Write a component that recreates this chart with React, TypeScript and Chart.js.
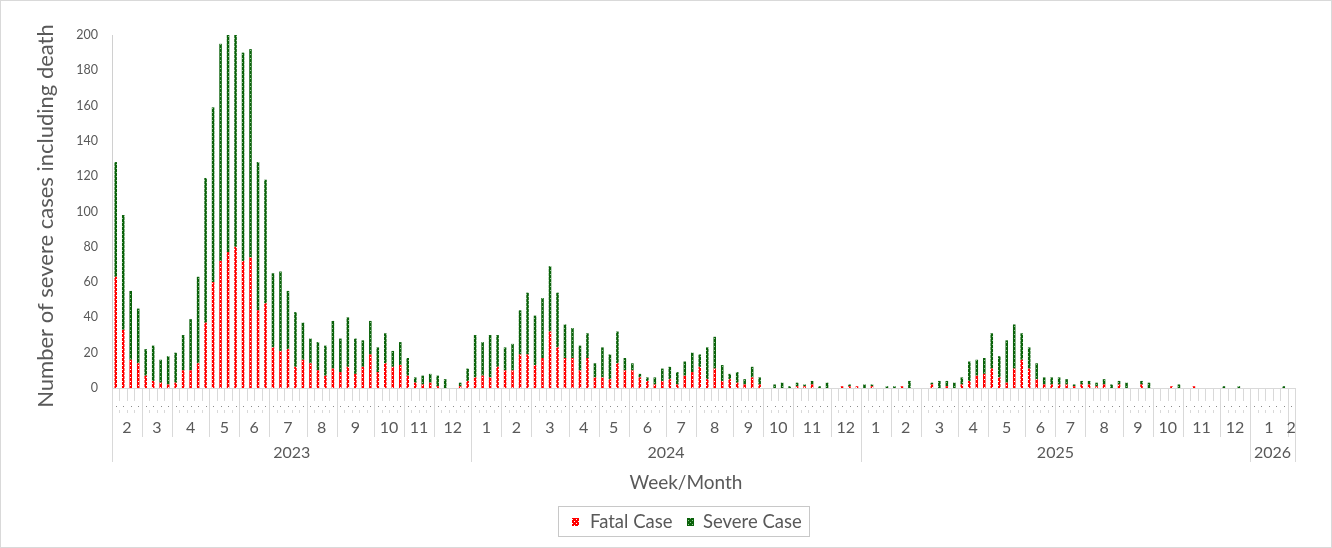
import React, { useEffect, useRef } from "react";
import { Chart, registerables } from "chart.js";

Chart.register(...registerables);

// [year, month, number of weeks]
const monthGroups: [number, number, number][] = [
  [2023, 2, 4], [2023, 3, 4], [2023, 4, 5], [2023, 5, 4], [2023, 6, 4], [2023, 7, 5],
  [2023, 8, 4], [2023, 9, 5], [2023, 10, 4], [2023, 11, 4], [2023, 12, 5],
  [2024, 1, 4], [2024, 2, 4], [2024, 3, 5], [2024, 4, 4], [2024, 5, 4], [2024, 6, 5],
  [2024, 7, 4], [2024, 8, 5], [2024, 9, 4], [2024, 10, 4], [2024, 11, 5], [2024, 12, 4],
  [2025, 1, 4], [2025, 2, 4], [2025, 3, 5], [2025, 4, 4], [2025, 5, 5], [2025, 6, 4],
  [2025, 7, 4], [2025, 8, 5], [2025, 9, 4], [2025, 10, 4], [2025, 11, 5], [2025, 12, 4],
  [2026, 1, 5], [2026, 2, 1],
];

const fatalCases = [
  63, 33, 16, 14, 7, 4, 3, 2, 3, 10,
  10, 14, 37, 60, 72, 77, 80, 72, 74, 44,
  48, 23, 21, 22, 12, 16, 14, 10, 7, 11,
  9, 12, 8, 12, 19, 9, 14, 12, 13, 7,
  3, 2, 3, 1, 0, 0, 1, 4, 6, 7,
  6, 12, 10, 10, 19, 19, 13, 17, 32, 23,
  17, 17, 10, 17, 6, 6, 5, 14, 10, 10,
  6, 4, 2, 4, 5, 2, 7, 9, 12, 5,
  11, 4, 5, 3, 2, 6, 2, 0, 0, 0,
  0, 1, 1, 2, 0, 0, 0, 1, 1, 1,
  0, 1, 0, 0, 0, 1, 0, 0, 0, 2,
  0, 1, 0, 2, 4, 7, 8, 11, 6, 3,
  11, 16, 11, 5, 2, 2, 2, 2, 1, 2,
  2, 1, 2, 0, 2, 0, 0, 2, 0, 0,
  0, 1, 0, 0, 1, 0, 0, 0, 0, 0,
  0, 0, 0, 0, 0, 0, 0, 0,
];

const severeCases = [
  65, 65, 39, 31, 15, 20, 13, 16, 17, 20,
  29, 49, 82, 99, 123, 123, 120, 118, 118, 84,
  70, 42, 45, 33, 31, 21, 14, 16, 17, 27,
  19, 28, 20, 15, 19, 14, 17, 9, 13, 10,
  3, 5, 5, 6, 5, 0, 2, 7, 24, 19,
  24, 18, 13, 15, 25, 35, 28, 34, 37, 31,
  19, 17, 14, 14, 8, 17, 14, 18, 7, 4,
  2, 2, 4, 7, 7, 7, 8, 11, 7, 18,
  18, 9, 3, 6, 3, 6, 4, 0, 2, 3,
  1, 2, 1, 2, 1, 3, 0, 0, 1, 0,
  2, 1, 0, 1, 1, 0, 4, 0, 0, 1,
  4, 3, 3, 4, 11, 9, 9, 20, 12, 24,
  25, 15, 12, 9, 4, 4, 4, 3, 1, 2,
  2, 2, 3, 2, 2, 3, 0, 2, 3, 0,
  0, 0, 2, 0, 0, 0, 0, 0, 1, 0,
  1, 0, 0, 0, 0, 0, 1, 0,
];

const seriesLabels = ["Fatal Case", "Severe Case"];
const yAxisTitle = "Number of severe cases including death";
const xAxisTitle = "Week/Month";

// derived category labels (one per week)
const categories: string[] = [];
const weekYear: number[] = [];
monthGroups.forEach(([y, m, n]) => {
  for (let k = 1; k <= n; k++) {
    categories.push(`${y}-${m}-W${k}`);
    weekYear.push(y);
  }
});

const FONT = "Lato, 'Noto Sans', sans-serif";
const TEXT = "#595959";
const LINE = "#d9d9d9";

function makePattern(bg: string, fg: string, cells: [number, number][]) {
  const c = document.createElement("canvas");
  c.width = 4;
  c.height = 4;
  const g = c.getContext("2d")!;
  g.fillStyle = bg;
  g.fillRect(0, 0, 4, 4);
  g.fillStyle = fg;
  cells.forEach(([a, b]) => g.fillRect(a, b, 1, 1));
  return g.createPattern(c, "repeat")!;
}

export default function App() {
  const ref = useRef<HTMLCanvasElement | null>(null);

  useEffect(() => {
    const canvas = ref.current;
    if (!canvas) return;
    const redPat = makePattern("#ff0000", "#ffffff", [[0, 3], [2, 1]]);
    const greenPat = makePattern("#0a620a", "#8fc48f", [[0, 0], [2, 2]]);

    const axisPlugin = {
      id: "multiLevelAxis",
      afterDraw(chart: any) {
        const ctx = chart.ctx as CanvasRenderingContext2D;
        const xs = chart.scales.x;
        const area = chart.chartArea;
        const n = categories.length;
        const bnd = (k: number) =>
          k <= 0 ? area.left : k >= n ? area.right : (xs.getPixelForValue(k - 1) + xs.getPixelForValue(k)) / 2;
        const y0 = area.bottom;
        ctx.save();
        ctx.strokeStyle = LINE;
        ctx.lineWidth = 1;
        ctx.beginPath();
        ctx.moveTo(area.left, y0 + 0.5);
        ctx.lineTo(area.right, y0 + 0.5);
        ctx.stroke();
        for (let k = 0; k <= n; k++) {
          const px = Math.round(bnd(k)) + 0.5;
          ctx.beginPath();
          ctx.moveTo(px, y0);
          ctx.lineTo(px, y0 + 13);
          ctx.moveTo(px, y0 + 22);
          ctx.lineTo(px, y0 + 25);
          ctx.stroke();
        }
        ctx.fillStyle = "#8c8c8c";
        for (let i = 0; i < n; i++) {
          const cx = Math.round(xs.getPixelForValue(i));
          ctx.fillRect(cx, y0 + 18, 1, 1);
        }
        ctx.fillStyle = TEXT;
        ctx.textAlign = "center";
        ctx.textBaseline = "middle";
        ctx.font = `16px ${FONT}`;
        let start = 0;
        monthGroups.forEach(([, m, cnt]) => {
          const a = bnd(start), b = bnd(start + cnt);
          ctx.beginPath();
          ctx.moveTo(Math.round(a) + 0.5, y0);
          ctx.lineTo(Math.round(a) + 0.5, y0 + 49);
          ctx.moveTo(Math.round(b) + 0.5, y0);
          ctx.lineTo(Math.round(b) + 0.5, y0 + 49);
          ctx.stroke();
          ctx.fillText(String(m), (a + b) / 2, y0 + 40);
          start += cnt;
        });
        const years: { y: number; s: number; e: number }[] = [];
        weekYear.forEach((y, i) => {
          const last = years[years.length - 1];
          if (!last || last.y !== y) years.push({ y, s: i, e: i + 1 });
          else last.e = i + 1;
        });
        years.forEach(({ y, s, e }) => {
          const a = bnd(s), b = bnd(e);
          ctx.beginPath();
          ctx.moveTo(Math.round(a) + 0.5, y0);
          ctx.lineTo(Math.round(a) + 0.5, y0 + 74);
          ctx.moveTo(Math.round(b) + 0.5, y0);
          ctx.lineTo(Math.round(b) + 0.5, y0 + 74);
          ctx.stroke();
          ctx.fillText(String(y), (a + b) / 2, y0 + 65);
        });
        ctx.font = `19px ${FONT}`;
        ctx.fillText(xAxisTitle, 686, 483);
        ctx.save();
        ctx.translate(46, 216);
        ctx.rotate(-Math.PI / 2);
        ctx.font = `22px ${FONT}`;
        ctx.fillText(yAxisTitle, 0, 0);
        ctx.restore();
        // legend
        ctx.strokeStyle = "#c8c8c8";
        ctx.strokeRect(558.5, 506.5, 251, 30);
        ctx.textAlign = "left";
        ctx.font = `18.5px ${FONT}`;
        ctx.fillStyle = redPat;
        ctx.fillRect(572, 518, 7, 8);
        ctx.fillStyle = TEXT;
        ctx.fillText(seriesLabels[0], 590, 522);
        ctx.fillStyle = greenPat;
        ctx.fillRect(687, 518, 7, 8);
        ctx.fillStyle = TEXT;
        ctx.fillText(seriesLabels[1], 703, 522);
        ctx.strokeStyle = LINE;
        ctx.strokeRect(0.5, 0.5, chart.width - 1, chart.height - 1);
        ctx.restore();
      },
    };

    const chart = new Chart(canvas, {
      type: "bar",
      data: {
        labels: categories,
        datasets: [
          {
            label: seriesLabels[0],
            data: fatalCases,
            backgroundColor: redPat as any,
            barPercentage: 0.34,
            categoryPercentage: 1,
          },
          {
            label: seriesLabels[1],
            data: severeCases,
            backgroundColor: greenPat as any,
            barPercentage: 0.34,
            categoryPercentage: 1,
          },
        ],
      },
      options: {
        responsive: false,
        animation: false,
        layout: { padding: { left: 0, right: 37, top: 35, bottom: 0 } },
        plugins: { legend: { display: false }, tooltip: { enabled: false } },
        scales: {
          x: {
            stacked: true,
            offset: true,
            grid: { display: false, drawTicks: false },
            border: { display: false },
            ticks: { display: false },
            afterFit: (s: any) => {
              s.height = 160;
            },
          },
          y: {
            stacked: true,
            min: 0,
            max: 200,
            ticks: { stepSize: 20, color: TEXT, font: { family: FONT, size: 12.5 }, padding: 14 },
            grid: { display: false, drawTicks: false },
            border: { display: true, color: "#d0d0d0", width: 1 },
            afterFit: (s: any) => {
              s.width = 112;
            },
          },
        },
      },
      plugins: [axisPlugin],
    });
    return () => chart.destroy();
  }, []);

  return (
    <div style={{ position: "absolute", left: 0, top: 0, width: 1332, height: 548, background: "#fff" }}>
      <canvas ref={ref} width={1332} height={548} style={{ display: "block" }} />
    </div>
  );
}
